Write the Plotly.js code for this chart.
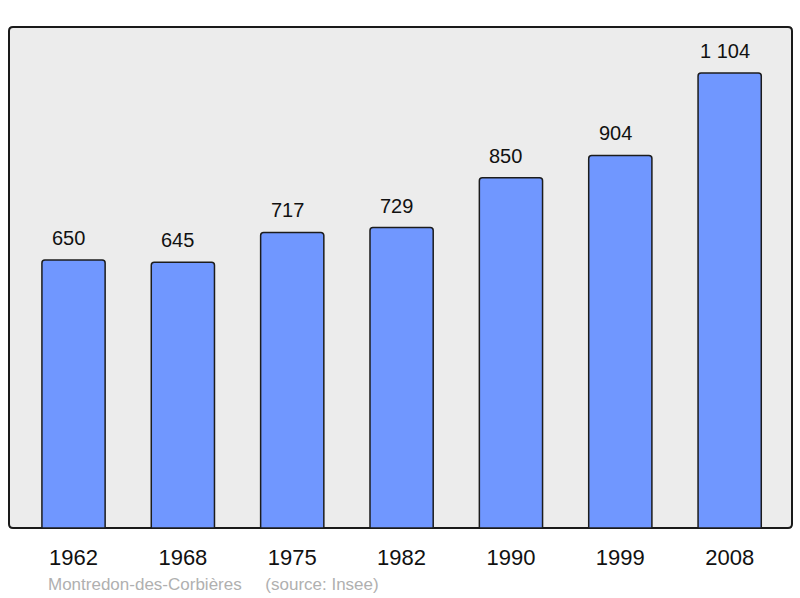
<!DOCTYPE html>
<html><head><meta charset="utf-8">
<script src="https://cdn.plot.ly/plotly-3.0.1.min.js"></script>
<style>body{margin:0;background:#fff}#c{width:800px;height:598px}</style>
</head><body><div id="c"></div>
<script>
const years = ['1962','1968','1975','1982','1990','1999','2008'];
const population = [650, 645, 717, 729, 850, 904, 1104];
const labels = ['650','645','717','729','850','904','1 104'];
const footer = 'Montredon-des-Corbières\u00a0\u00a0\u00a0\u00a0\u00a0(source: Insee)';

const W = 800, H = 598, ml = 9, mr = 8, mt = 27, mb = 70;
const pw = W - ml - mr, ph = H - mt - mb;
const rx = 4 / pw, ry = 4 / ph;
const framePath = `M ${rx} 0 L ${1-rx} 0 Q 1 0 1 ${ry} L 1 ${1-ry} Q 1 1 ${1-rx} 1 L ${rx} 1 Q 0 1 0 ${1-ry} L 0 ${ry} Q 0 0 ${rx} 0 Z`;
const FONT = 'Liberation Sans, Arial, sans-serif';

const trace = {
  type: 'bar', x: years, y: population, width: 0.578,
  marker: {color: '#7097ff', line: {color: '#1c1c1c', width: 1.5}, cornerradius: 3},
  hoverinfo: 'none'
};
const annotations = years.map((yr, i) => ({
  xref: 'x', yref: 'y', x: i, y: population[i], text: labels[i], showarrow: false,
  yanchor: 'bottom', yshift: 9, xshift: -5, font: {family: FONT, size: 20, color: '#111'}
}));
annotations.push({
  xref: 'paper', yref: 'paper', x: (46 - ml) / pw, y: -(584 - mt - ph) / ph, xanchor: 'left', yanchor: 'middle',
  text: footer, showarrow: false, font: {family: FONT, size: 17, color: '#b0b0b0'}
});
const layout = {
  width: W, height: H, margin: {l: ml, r: mr, t: mt, b: mb},
  paper_bgcolor: '#ffffff', plot_bgcolor: 'rgba(0,0,0,0)',
  showlegend: false,
  xaxis: {type: 'category', range: [-0.59, 6.57], showgrid: false, zeroline: false, showline: false,
          ticks: 'outside', ticklen: 10, tickcolor: 'rgba(0,0,0,0)',
          tickfont: {family: FONT, size: 22, color: '#111'}},
  yaxis: {range: [0, 1215.6], showgrid: false, zeroline: false, showline: false, showticklabels: false, ticks: ''},
  shapes: [{type: 'path', xref: 'paper', yref: 'paper', path: framePath, fillcolor: '#ececec',
            line: {color: '#1a1a1a', width: 2}, layer: 'below'}],
  annotations: annotations
};
Plotly.newPlot('c', [trace], layout, {displayModeBar: false, staticPlot: true});
</script></body></html>
